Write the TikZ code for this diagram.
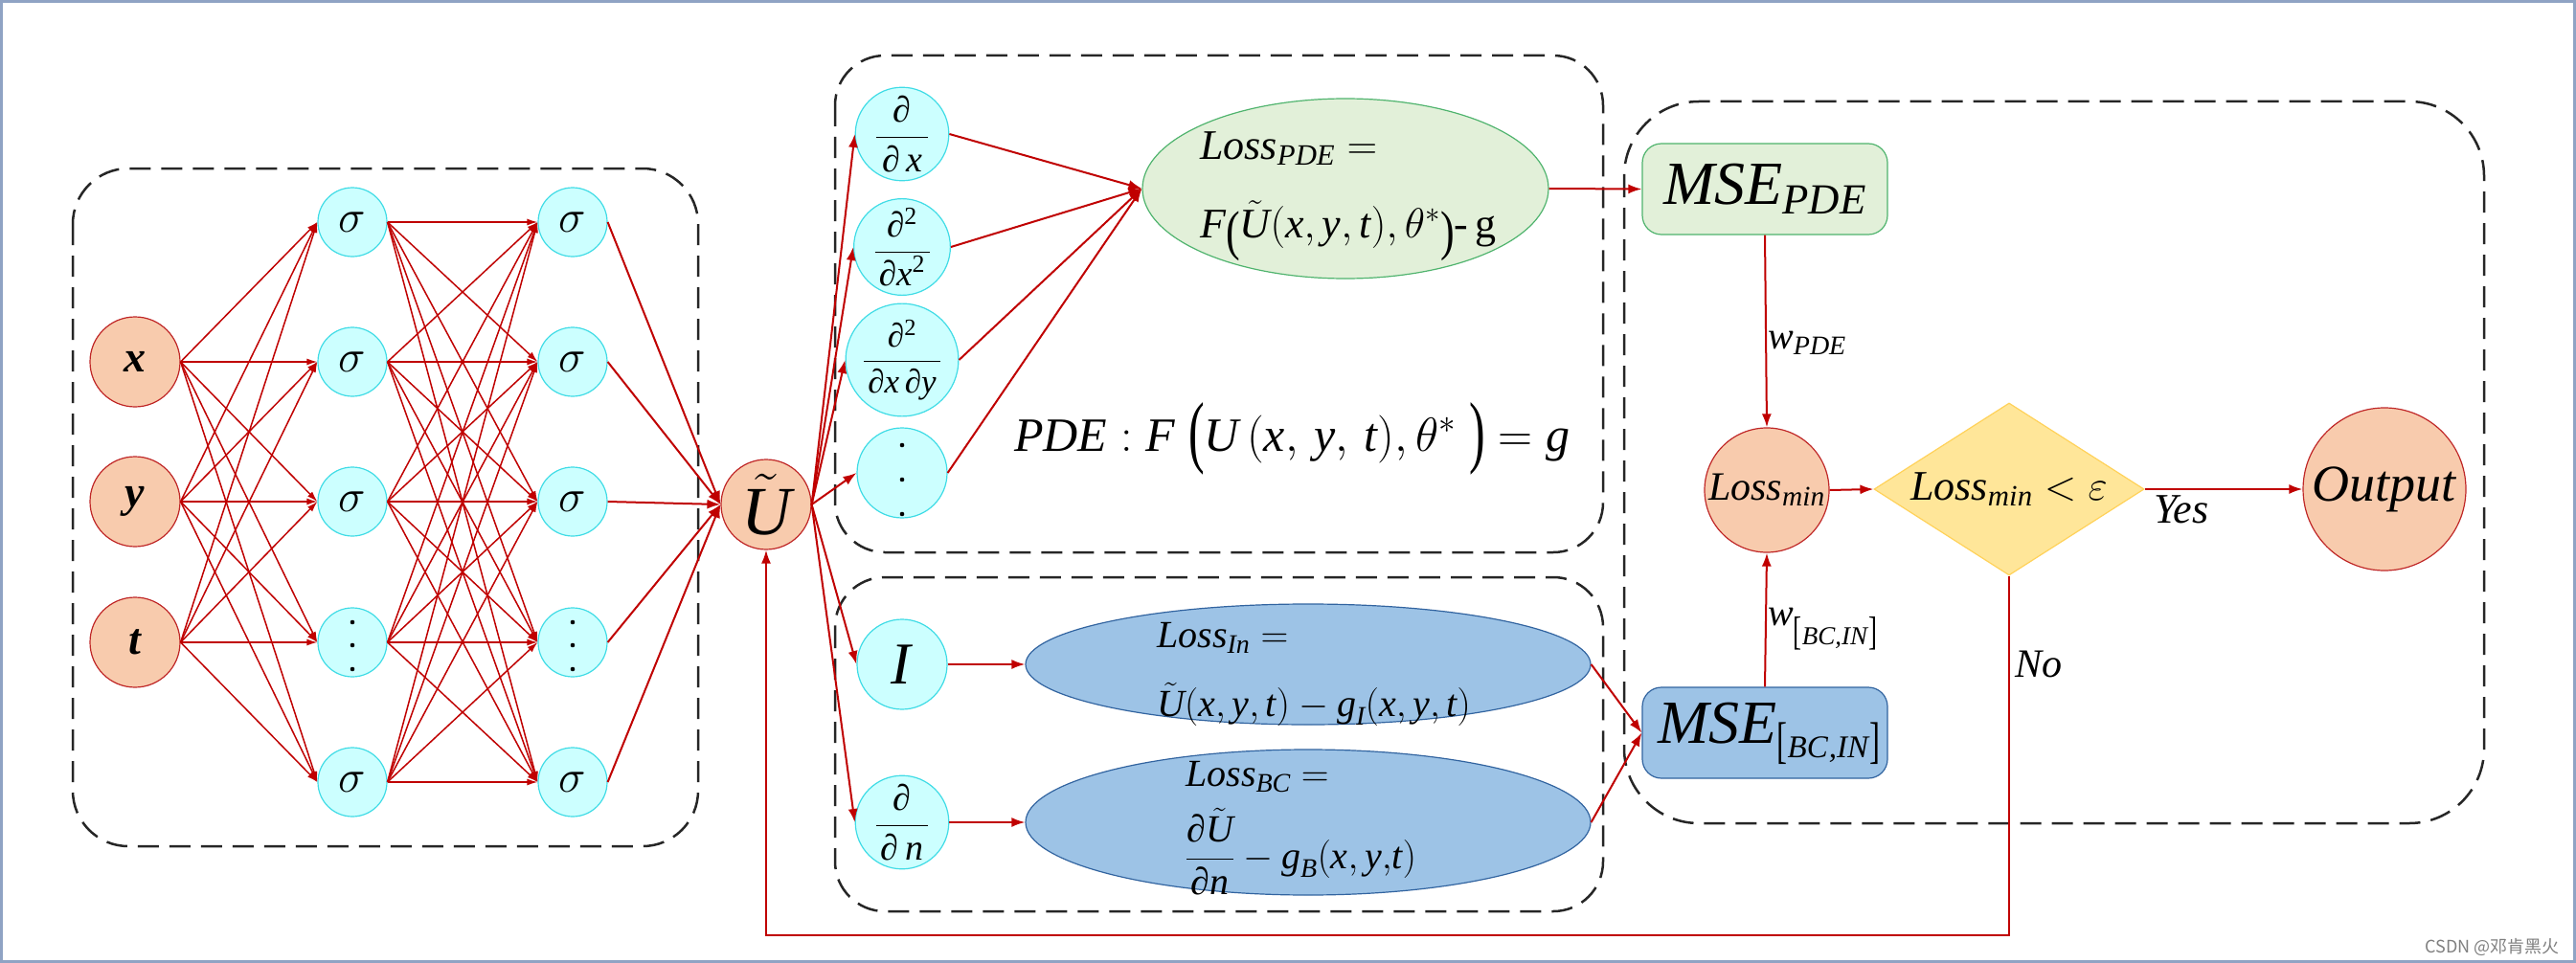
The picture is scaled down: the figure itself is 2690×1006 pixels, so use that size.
\RequirePackage{fix-cm}
\documentclass[tikz,border=0pt]{standalone}
\usepackage{graphicx}
\usepackage{amsmath}
\usepackage{fontspec}
\setmainfont{Liberation Serif}
\newfontfamily\cjkfont{Noto Sans CJK SC}
\usetikzlibrary{arrows.meta,shapes.geometric}
\newcommand\ti[1]{\text{\itshape #1}}
\newcommand\setfs[1]{\fontsize{#1}{#1}\selectfont}
\newcommand\bpar[3]{\raisebox{#3}{\scalebox{1}[#2]{#1}}}
\definecolor{framecol}{RGB}{143,163,196}
\definecolor{orfill}{RGB}{248,203,173}
\definecolor{orbd}{RGB}{192,40,40}
\definecolor{cyfill}{RGB}{204,255,255}
\definecolor{cybd}{RGB}{64,220,230}
\definecolor{grfill}{RGB}{226,240,217}
\definecolor{grbd}{RGB}{80,180,110}
\definecolor{blfill}{RGB}{157,195,230}
\definecolor{blbd}{RGB}{50,100,160}
\definecolor{yefill}{RGB}{255,230,153}
\definecolor{yebd}{RGB}{255,210,90}
\definecolor{arred}{RGB}{192,0,0}
\tikzset{
  ornode/.style={circle, draw=orbd, fill=orfill, line width=1.2, minimum size=#1, inner sep=0},
  ornode/.default=94,
  cynode/.style={circle, draw=cybd, fill=cyfill, line width=1.2, minimum size=#1, inner sep=0},
  cynode/.default=94,
  nnarr/.style={draw=arred, line width=1.5, -{Latex[length=11pt,width=7pt]}},
  arr/.style={draw=arred, line width=2, -{Latex[length=14pt,width=10pt]}},
  dashbox/.style={draw=black!85, line width=2.5, dash pattern=on 22pt off 11pt},
  txt/.style={inner sep=0, anchor=base west},
}
\begin{document}
\begin{tikzpicture}[x=1pt,y=-1pt]
\useasboundingbox (0,0) rectangle (2690,1006);
\fill[white] (0,0) rectangle (2690,1006);
\draw[framecol, line width=3] (1.5,1.5) rectangle (2688,1004.5);

% dashed group boxes
\draw[dashbox, rounded corners=58] (76,176) rectangle (729,884);
\draw[dashbox, rounded corners=52] (872,58) rectangle (1674,577);
\draw[dashbox, rounded corners=52] (872,603) rectangle (1674,952);
\draw[dashbox, rounded corners=78] (1696,106) rectangle (2594,860);

% input layer
\node[ornode, font=\setfs{46}] (ia) at (141,378) {\textbf{\textit{x}}};
\node[ornode, font=\setfs{46}] (ib) at (141,524) {\textbf{\textit{y}}};
\node[ornode, font=\setfs{46}] (ic) at (141,671) {\textbf{\textit{t}}};

% hidden layers
\foreach \j/\yy in {1/232,2/378,3/524,4/671,5/817}{
  \node[cynode=72] (ha\j) at (368,\yy) {};
  \node[cynode=72] (hb\j) at (598,\yy) {};
}
\foreach \j in {1,2,3,5}{
  \node[font=\setfs{48}, inner sep=0] (sa\j) at (ha\j) {$\sigma$};
  \node[font=\setfs{48}, inner sep=0] (sb\j) at (hb\j) {$\sigma$};
}
\foreach \dy in {-21,3,28}{
  \fill (ha4.center) ++(0,\dy) circle (2.3);
  \fill (hb4.center) ++(0,\dy) circle (2.3);
}

% network output
\node[ornode, font=\setfs{72}] (U) at (800,527) {$\tilde{\ti{U}}$};

% connections of the network
\foreach \i in {a,b,c}{
  \foreach \j in {1,...,5}{
    \draw[nnarr] (i\i.east) -- (ha\j.west);
  }
}
\foreach \i in {1,...,5}{
  \foreach \j in {1,...,5}{
    \draw[nnarr] (ha\i.east) -- (hb\j.west);
  }
  \draw[arr] (hb\i.east) -- (U.west);
}

% derivative operators
\node[cynode, font=\setfs{38}] (d1) at (942,140)
  {$\dfrac{\makebox[54pt]{∂}}{\makebox[54pt]{∂\,\textit{x}}}$};
\node[cynode, font=\setfs{37}] (d2) at (942,258)
  {$\dfrac{\makebox[57pt]{∂\textsuperscript{2}}}{\makebox[57pt]{∂\textit{x}\textsuperscript{2}}}$};
\node[cynode, font=\setfs{35}] (d3) at (942,376)
  {$\dfrac{\makebox[80pt]{∂\textsuperscript{2}}}{\makebox[80pt]{∂\textit{x}\,∂\textit{y}}}$};
\node[cynode] (d4) at (942,494) {};
\foreach \dy in {-29,7,43}{
  \fill (d4.center) ++(0,\dy) circle (2.3);
}
\node[cynode, font=\setfs{62}] (dI) at (942,694) {\textit{I}};
\node[cynode, font=\setfs{38}] (dn) at (942,859)
  {$\dfrac{\makebox[54pt]{∂}}{\makebox[54pt]{∂\,\textit{n}}}$};

\foreach \k in {d1,d2,d3,d4,dI,dn}{
  \draw[arr] (U.east) -- (\k.west);
}

% loss ellipses
\node[ellipse, draw=grbd, fill=grfill, line width=1.2, minimum width=424, minimum height=188, inner sep=0] (lpde) at (1405,197) {};
\node[txt, font=\setfs{44}] (lpdea) at (1253,166) {$\ti{Loss}_{\ti{PDE}} =$};
\node[txt, font=\setfs{44}] (lpdeb) at (1253,248)
  {$\ti{F}\text{\bpar{(}{1.3}{-12pt}}\tilde{\ti{U}}(\ti{x},\ti{y},\ti{t}),\theta^{*}\text{\bpar{)}{1.3}{-12pt}}\text{-\,g}$};

\node[ellipse, draw=blbd, fill=blfill, line width=1.2, minimum width=590, minimum height=126, inner sep=0] (lin) at (1366,694) {};
\node[txt, font=\setfs{40}] (lina) at (1208,676) {$\ti{Loss}_{\ti{In}} =$};
\node[txt, font=\setfs{40}] (linb) at (1208,748)
  {$\tilde{\ti{U}}(\ti{x},\ti{y},\ti{t})-\ti{g}_{\ti{I}}(\ti{x},\ti{y},\ti{t})$};

\node[ellipse, draw=blbd, fill=blfill, line width=1.2, minimum width=590, minimum height=152, inner sep=0] (lbc) at (1366,859) {};
\node[txt, font=\setfs{40}] (lbca) at (1238,821) {$\ti{Loss}_{\ti{BC}} =$};
\node[txt, font=\setfs{40}] (lbcb) at (1238,907)
  {$\dfrac{\text{∂}\tilde{\ti{U}}}{\text{∂}\ti{n}}-\ti{g}_{\ti{B}}(\ti{x}{,}\,\ti{y}{,}\ti{t})$};

\foreach \k in {d1,d2,d3,d4}{
  \draw[arr] (\k.east) -- (lpde.west);
}
\draw[arr] (dI.east) -- (lin.west);
\draw[arr] (dn.east) -- (lbc.west);

% PDE statement
\node[txt, font=\setfs{50}] (pde) at (1059,471)
  {$\ti{PDE}:\ti{F}\;\text{\bpar{(}{1.67}{-7pt}}\ti{U}\,(\ti{x},\,\ti{y},\,\ti{t}),\theta^{*}\;\text{\bpar{)}{1.67}{-7pt}}=\ti{g}$};

% MSE boxes
\node[rectangle, rounded corners=20, draw=grbd, fill=grfill, line width=1.2, minimum width=256, minimum height=95, inner sep=0, font=\setfs{64}] (msep) at (1843,197.5) {$\ti{MSE}_{\ti{PDE}}$};
\node[rectangle, rounded corners=20, draw=blbd, fill=blfill, line width=1.2, minimum width=256, minimum height=95, inner sep=0] (mseb) at (1843,765.5) {};
\node[txt] (msebt) at (1731,776) {{\setfs{64}\textit{MSE}}\raisebox{-15pt}{\setfs{33}\bpar{[}{1.6}{0pt}\textit{BC\kern1pt,IN}\bpar{]}{1.6}{0pt}}};

\draw[arr] (lpde.east) -- (msep.west);
\draw[arr] (lin.east) -- (mseb.west);
\draw[arr] (lbc.east) -- (mseb.west);

% decision part
\node[ornode=130, font=\setfs{42}] (lmin) at (1845,512) {$\ti{Loss}_{\ti{min}}$};
\node[diamond, draw=yebd, fill=yefill, line width=1.2, minimum width=282, minimum height=180, inner sep=0] (dia) at (2098,511) {};
\node[inner sep=0, font=\setfs{44}] (diat) at (dia.center) {$\ti{Loss}_{\ti{min}}<\varepsilon$};
\node[ornode=170, font=\setfs{54}] (out) at (2490,511) {\textit{Output}};

\draw[arr] (msep.south) -- (lmin.north);
\draw[arr] (mseb.north) -- (lmin.south);
\draw[arr] (lmin.east) -- (dia.west);
\draw[arr] (dia.east) -- (out.west);

\node[txt, font=\setfs{40}] (wp) at (1846,364) {$\ti{w}_{\ti{PDE}}$};
\node[txt, font=\setfs{40}] (wb) at (1846,653) {\textit{w}\raisebox{-20pt}{\setfs{27}\bpar{[}{1.55}{0pt}\textit{BC,IN}\bpar{]}{1.55}{0pt}}};
\node[inner sep=0, anchor=base, font=\setfs{44}] (yes) at (2278,546) {\textit{Yes}};
\node[txt, font=\setfs{42}] (no) at (2104,707) {\textit{No}};

% feedback loop
\coordinate (fb) at (800,977);
\draw[arr] (dia.south) |- (fb) -- (U.south);

% watermark
\node[inner sep=0, anchor=base east, text=black!50, font=\cjkfont\setfs{18}] (wm) at (2673,995) {CSDN @邓肯黑火};
\end{tikzpicture}
\end{document}
